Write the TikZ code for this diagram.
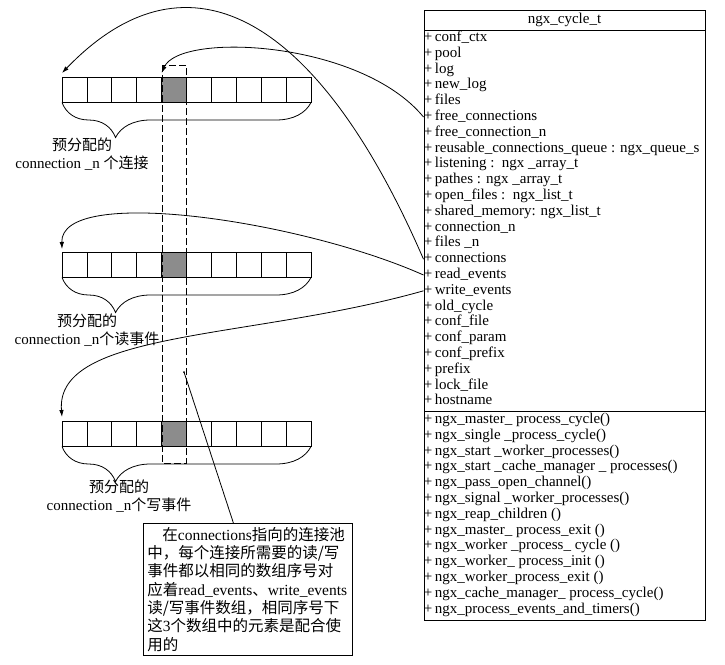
\documentclass[tikz,border=0pt]{standalone}
\usepackage{fontspec}
\setmainfont{Liberation Serif}
\newfontfamily\zh{Noto Sans CJK SC}
\usetikzlibrary{arrows.meta,decorations.pathreplacing}

\begin{document}
\begin{tikzpicture}[x=1pt,y=-1pt,line width=0.8pt,
  >={Latex[length=7pt,width=4.5pt]},
  cell/.style={draw,minimum width=24.9pt,minimum height=25.5pt,inner sep=0pt,outer sep=0pt,anchor=north west},
  row/.style={anchor=west,inner sep=0pt,text height=10.5pt,text depth=3.5pt,font=\fontsize{15}{16}\selectfont},
  lbl/.style={align=center,font=\fontsize{15}{18}\selectfont},
  curly/.style={decorate,decoration={brace,mirror,amplitude=35pt,aspect=0.215}}]
\useasboundingbox (0,0) rectangle (725,664);

% the three pools
\foreach \p/\ytop in {conn/77,rev/252,wev/421}{
  \fill[black!45] (62+24.9*4,\ytop) rectangle +(24.9,25.5);
  \foreach \i in {0,...,9}
    \node[cell] (\p\i) at (62+24.9*\i,\ytop) {};
  \draw[curly] (\p0.south west) -- (\p9.south east);
}
\node[lbl] (lconn) at (82,154) {{\zh 预分配的}\\connection \_n {\zh 个连接}};
\node[lbl] (lrev) at (87,330) {{\zh 预分配的}\\connection \_n{\zh 个读事件}};
\node[lbl] (lwev) at (119,496) {{\zh 预分配的}\\connection \_n{\zh 个写事件}};

\draw[dashed,dash pattern=on 7pt off 3pt] (162,65) rectangle (186,463);

% ngx_cycle_t
\draw (424,10) rectangle (705,620);
\draw (424,30) -- (705,30);
\draw (424,411) -- (705,411);
\node[font=\fontsize{15}{16}\selectfont] (title) at (564.5,20) {ngx\_cycle\_t};

\foreach \t [count=\i] in {conf\_ctx, pool, log, new\_log, files, free\_connections,
  free\_connection\_n, reusable\_connections\_queue : ngx\_queue\_s,
  listening :\ \ ngx \_array\_t, pathes : ngx \_array\_t, open\_files :\ \ ngx\_list\_t,
  shared\_memory: ngx\_list\_t, connection\_n, files \_n, connections, read\_events,
  write\_events, old\_cycle, conf\_file, conf\_param, conf\_prefix, prefix, lock\_file, hostname}
  \node[row] (attr\i) at (423.5,22.2+15.8*\i) {+\,\t};

\foreach \t [count=\i] in {ngx\_master\_ process\_cycle(), ngx\_single \_process\_cycle(),
  ngx\_start \_worker\_processes(), ngx\_start \_cache\_manager \_ processes(),
  ngx\_pass\_open\_channel(), ngx\_signal \_worker\_processes(), ngx\_reap\_children (),
  ngx\_master\_ process\_exit (), ngx\_worker \_process\_ cycle (), ngx\_worker\_ process\_init (),
  ngx\_worker\_process\_exit (), ngx\_cache\_manager\_ process\_cycle(),
  ngx\_process\_events\_and\_timers()}
  \node[row] (meth\i) at (423.5,404.2+15.8*\i) {+\,\t};

% pointers
\draw[->] (attr15.west) .. controls (320,20) and (190,-60) .. ([yshift=4pt]conn0.north west);
\draw[->] (attr6.west) .. controls (360,40) and (180,32) .. ([yshift=4pt]conn4.north west);
\draw[->] (attr16.west) .. controls (300,220) and (60,185) .. ([yshift=3pt]rev0.north west);
\draw[->] (attr17.west) .. controls (250,340) and (55,330) .. ([yshift=4pt]wev0.north west);

% note
\node[draw,anchor=north west,text width=201pt,inner xsep=4pt,minimum height=132pt,align=left,
  font=\fontsize{15.5}{18.3}\selectfont] (note) at (143,523)
  {\hspace*{15pt}{\zh 在}connections{\zh 指向的连接池}\\
   {\zh 中，每个连接所需要的读/写}\\
   {\zh 事件都以相同的数组序号对}\\
   {\zh 应着}read\_events{\zh 、}write\_events\\
   {\zh 读/写事件数组，相同序号下}\\
   {\zh 这}3{\zh 个数组中的元素是配合使}\\
   {\zh 用的}};
\coordinate (pick) at (184,372);
\fill (pick) circle (1pt);
\draw (pick) -- ([xshift=-14.5pt]note.north);
\end{tikzpicture}
\end{document}
